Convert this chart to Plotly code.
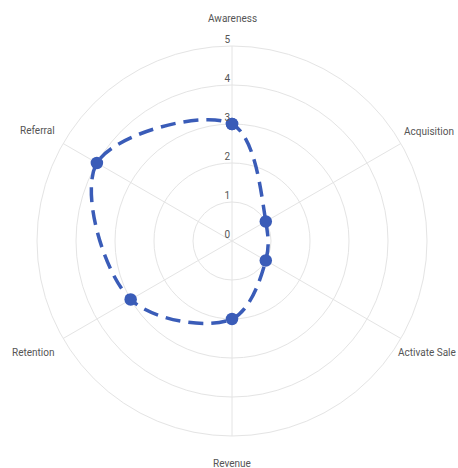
import math
import plotly.graph_objects as go

categories = ["Awareness", "Acquisition", "Activate Sale", "Revenue", "Retention", "Referral"]
values = [3, 1, 1, 2, 3, 4]
radial_ticks = [0, 1, 2, 3, 4, 5]

theta = categories + [categories[0]]
r = values + [values[0]]

W, H = 458, 468
L, T, S = 37, 46, 390
R = S / 2

fig = go.Figure()
fig.add_trace(go.Scatterpolar(
    r=r, theta=theta, mode="lines+markers",
    line=dict(color="#3a5cb8", width=3.5, dash="15px,8px", shape="spline", smoothing=1),
    marker=dict(size=12.5, color="#3a5cb8"),
    fill="none", showlegend=False, hoverinfo="skip",
))

# angular labels placed just outside the outer ring, following each spoke's angle
label_shift_px = [0, -5, -11, 0, 0, 0]
annotations = []
n = len(categories)
for i, cat in enumerate(categories):
    ang = math.radians(90 - 360 * i / n)
    c, s = math.cos(ang), math.sin(ang)
    if abs(c) < 1e-6:
        dx, dy = 0, (R + 27.5) * (1 if s > 0 else -1)
        xa = "center"
    else:
        dx = R * c + (6 if c > 0 else -6) + label_shift_px[i]
        dy = R * s + (-13.5 if s < 0 else 12.5)
        xa = "left" if c > 0 else "right"
    annotations.append(dict(
        text=cat, xref="paper", yref="paper",
        x=0.5 + dx / S, y=0.5 + dy / S,
        xanchor=xa, yanchor="middle", showarrow=False,
        font=dict(family="Roboto", size=10, color="#555"),
    ))

grid = "#e4e4e4"
fig.update_layout(
    width=W, height=H,
    margin=dict(l=L, r=W - L - S, t=T, b=H - T - S),
    paper_bgcolor="white",
    font=dict(family="Roboto", size=10, color="#555"),
    annotations=annotations,
    polar=dict(
        bgcolor="white",
        angularaxis=dict(
            categoryorder="array", categoryarray=categories,
            rotation=90, direction="clockwise",
            showline=True, linecolor=grid, linewidth=1,
            gridcolor=grid, gridwidth=1,
            showticklabels=False, ticks="",
        ),
        radialaxis=dict(
            range=[0, 5], tickvals=radial_ticks,
            ticktext=[f"{t}<br> " for t in radial_ticks],
            angle=90, tickangle=90, side="counterclockwise", showline=False, ticks="",
            gridcolor=grid, gridwidth=1,
            tickfont=dict(family="Roboto", size=10, color="#555"),
        ),
    ),
)
fig.write_html(
    "out.html",
    config={"displayModeBar": False},
    post_script="document.body.style.margin='0';document.body.style.overflow='hidden';",
)
